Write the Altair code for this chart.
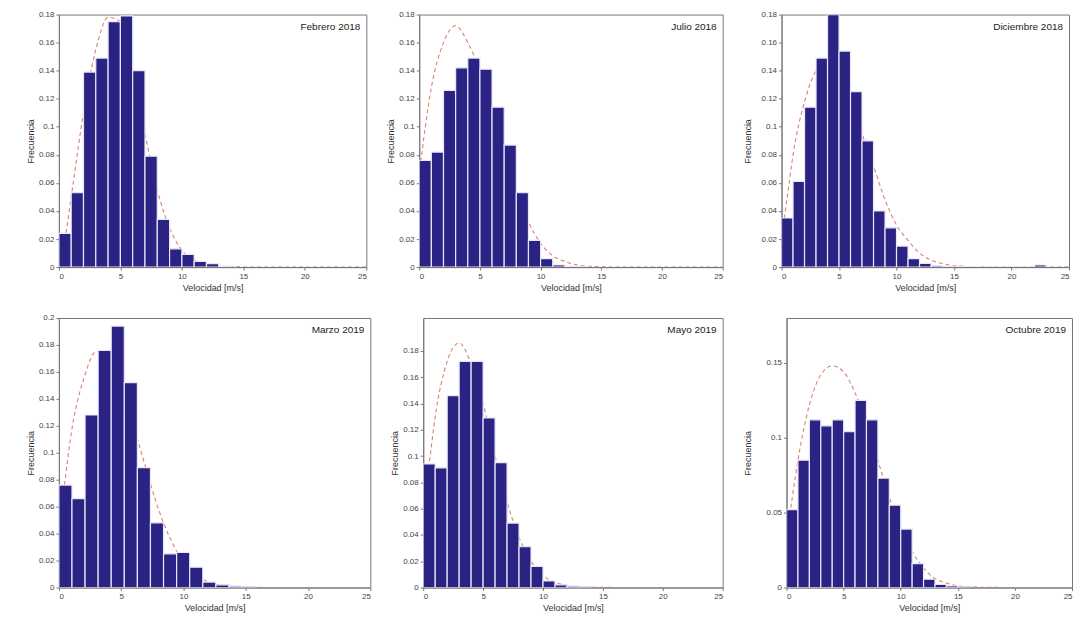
import altair as alt
import pandas as pd

# ---- data (frequency per 1 m/s bin, starting at 0) ----
titles = ["Febrero 2018", "Julio 2018", "Diciembre 2018", "Marzo 2019", "Mayo 2019", "Octubre 2019"]

febrero_2018 = [0.024, 0.053, 0.139, 0.149, 0.175, 0.179, 0.140, 0.079, 0.034, 0.013, 0.009, 0.004, 0.0024, 0.0007]
julio_2018 = [0.076, 0.082, 0.126, 0.142, 0.149, 0.141, 0.114, 0.087, 0.053, 0.019, 0.006, 0.0015, 0.0005, 0.0003]
diciembre_2018 = [0.035, 0.061, 0.114, 0.149, 0.180, 0.154, 0.125, 0.090, 0.040, 0.028, 0.015, 0.006, 0.0026,
                  0.001, 0.0006, 0.0004, 0.0003, 0, 0, 0, 0, 0, 0.0015]
marzo_2019 = [0.076, 0.066, 0.128, 0.176, 0.194, 0.152, 0.089, 0.048, 0.025, 0.026, 0.015, 0.004, 0.002, 0.001, 0.0005]
mayo_2019 = [0.094, 0.091, 0.146, 0.172, 0.172, 0.129, 0.095, 0.049, 0.031, 0.016, 0.005, 0.002, 0.001, 0.0005]
octubre_2019 = [0.052, 0.085, 0.112, 0.108, 0.112, 0.104, 0.125, 0.112, 0.073, 0.055, 0.039, 0.016, 0.0055,
                0.002, 0.001, 0.0005]

bin_widths = [1.0, 1.0, 1.0, 1.05, 1.0, 1.0]

# fitted curve, read at these speeds
curve_x = [0, 0.5, 1, 2, 3, 4, 5, 6, 7, 8, 9, 10, 11, 12, 13, 14, 15, 17, 20, 25]
curve_febrero = [0, 0.02, 0.05, 0.11, 0.155, 0.178, 0.175, 0.14, 0.095, 0.055, 0.028, 0.012, 0.005, 0.002,
                 0.0007, 0.0002, 0.0001, 0, 0, 0]
curve_julio = [0.065, 0.10, 0.128, 0.16, 0.172, 0.16, 0.14, 0.11, 0.08, 0.053, 0.032, 0.017, 0.008, 0.004,
               0.0015, 0.0005, 0.0002, 0, 0, 0]
curve_diciembre = [0.02, 0.05, 0.08, 0.118, 0.14, 0.147, 0.138, 0.118, 0.095, 0.072, 0.048, 0.03, 0.019, 0.01,
                   0.005, 0.0025, 0.001, 0.0002, 0, 0]
curve_marzo = [0.04, 0.08, 0.115, 0.155, 0.175, 0.17, 0.15, 0.12, 0.088, 0.058, 0.035, 0.019, 0.009, 0.004,
               0.0015, 0.0005, 0.0002, 0, 0, 0]
curve_mayo = [0.07, 0.095, 0.13, 0.172, 0.186, 0.17, 0.14, 0.10, 0.065, 0.038, 0.02, 0.009, 0.004, 0.0015,
              0.0005, 0.0002, 0.0001, 0, 0, 0]
curve_octubre = [0.03, 0.06, 0.085, 0.122, 0.142, 0.148, 0.144, 0.13, 0.11, 0.085, 0.06, 0.04, 0.024, 0.013,
                 0.006, 0.003, 0.001, 0.0002, 0, 0]

x_ticks = [0, 5, 10, 15, 20, 25]
y_ticks_a = [0, 0.02, 0.04, 0.06, 0.08, 0.1, 0.12, 0.14, 0.16, 0.18]
y_ticks_b = [0, 0.02, 0.04, 0.06, 0.08, 0.1, 0.12, 0.14, 0.16, 0.18, 0.2]
y_ticks_c = [0, 0.05, 0.1, 0.15]

BAR = "#2a2384"
CURVE = "#d9826e"
FONT = "Liberation Sans"


def panel(title, bars, bw, curve, width, height, ymax, yticks, ypad=3):
    bdf = pd.DataFrame({
        "x0": [i * bw for i in range(len(bars))],
        "x1": [(i + 1) * bw for i in range(len(bars))],
        "f": bars,
    })
    cdf = pd.DataFrame({"v": curve_x, "f": curve})
    xs = alt.Scale(domain=[0, 25], nice=False, zero=False)
    ys = alt.Scale(domain=[0, ymax], nice=False)
    common = dict(grid=False, labelFont=FONT, titleFont=FONT, labelFontSize=8, titleFontSize=9,
                  titleFontWeight="normal", labelColor="#444", titleColor="#333",
                  domainColor="#777", tickColor="#777", tickSize=3, labelPadding=2,
                  format="~g")
    xaxis = alt.Axis(values=x_ticks, title="Velocidad [m/s]", titlePadding=3, **common)
    yaxis = alt.Axis(values=yticks, title="Frecuencia", titlePadding=ypad, **common)

    line = alt.Chart(cdf).mark_line(
        color=CURVE, strokeDash=[4, 3], strokeWidth=1.1, interpolate="monotone", clip=True
    ).encode(
        x=alt.X("v:Q", scale=xs, axis=xaxis),
        y=alt.Y("f:Q", scale=ys, axis=yaxis),
    )
    rect = alt.Chart(bdf).mark_rect(
        color=BAR, stroke="#e8e6f8", strokeWidth=1.2, clip=True
    ).encode(
        x=alt.X("x0:Q", scale=xs, axis=xaxis),
        x2="x1:Q",
        y=alt.Y("f:Q", scale=ys, axis=yaxis),
        y2=alt.datum(0),
    )
    label = alt.Chart(pd.DataFrame({"t": [title]})).mark_text(
        align="right", baseline="top", fontSize=10, color="#222", font=FONT
    ).encode(
        x=alt.value(width - 6), y=alt.value(7), text="t:N"
    )
    return alt.layer(line, rect, label).properties(width=width, height=height)


row1 = alt.hconcat(
    panel(titles[0], febrero_2018, bin_widths[0], curve_febrero, 308, 253, 0.18, y_ticks_a),
    panel(titles[1], julio_2018, bin_widths[1], curve_julio, 304, 253, 0.18, y_ticks_a),
    panel(titles[2], diciembre_2018, bin_widths[2], curve_diciembre, 288, 253, 0.18, y_ticks_a, ypad=9),
    spacing=18,
)
row2 = alt.hconcat(
    panel(titles[3], marzo_2019, bin_widths[3], curve_marzo, 312, 270, 0.2, y_ticks_b),
    panel(titles[4], mayo_2019, bin_widths[4], curve_mayo, 300, 270, 0.205, y_ticks_a),
    panel(titles[5], octubre_2019, bin_widths[5], curve_octubre, 286, 270, 0.18, y_ticks_c, ypad=14),
    spacing=18,
)

chart = alt.vconcat(row1, row2, spacing=20).properties(
    padding={"left": 17, "right": 2, "top": 1, "bottom": 1},
    background="white",
).configure_view(
    stroke="#777", strokeWidth=1
)

chart.save("out.html", embed_options={"renderer": "svg", "actions": False})
